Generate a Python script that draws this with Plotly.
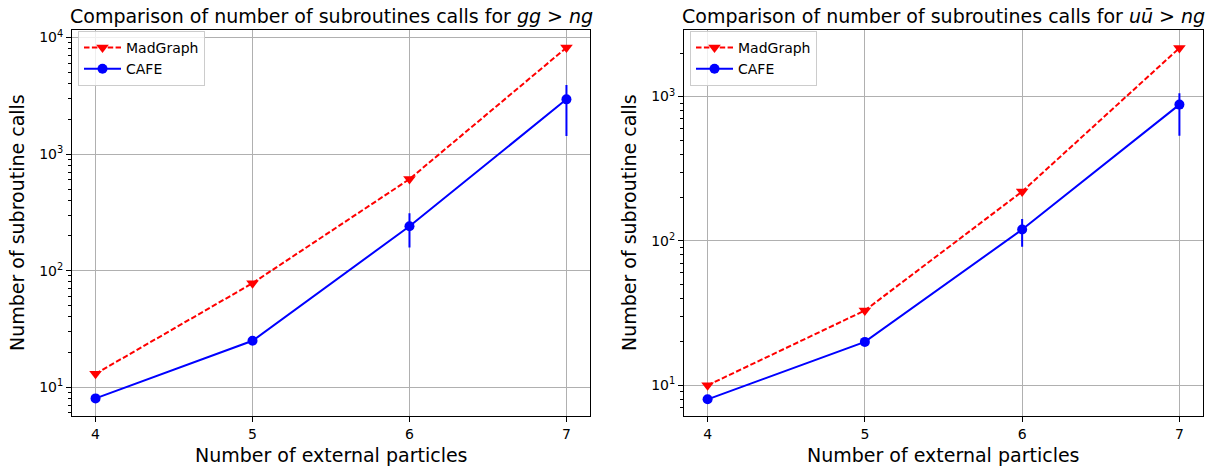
import plotly.graph_objects as go

# ---- data ----
n_particles = [4, 5, 6, 7]

gg_madgraph = [13, 78, 610, 8200]
gg_cafe = [8, 25, 240, 2950]
gg_cafe_err_plus = [0, 0, 70, 970]
gg_cafe_err_minus = [0, 0, 82, 1520]

uu_madgraph = [10, 33, 220, 2170]
uu_cafe = [8, 20, 120, 880]
uu_cafe_err_plus = [0, 0, 22, 175]
uu_cafe_err_minus = [0, 0, 29, 345]

x_ticks = [4, 5, 6, 7]
y_decades = [10, 100, 1000, 10000]
y_tick_text = ["10<sup>1</sup>", "10<sup>2</sup>", "10<sup>3</sup>", "10<sup>4</sup>"]

titles = ["Comparison of number of subroutines calls for <i>gg</i> > <i>ng</i>",
          "Comparison of number of subroutines calls for <i>u\u016b</i> > <i>ng</i>"]
x_label = "Number of external particles"
y_label = "Number of subroutine calls"

# ---- layout geometry ----
W, H = 1216, 472
FONT = "DejaVu Sans"
boxes = [(72, 590), (684, 1203)]
top, bottom = 28, 416
yranges = [[0.75, 4.066], [0.786, 3.462]]

minor_vals = [m * d for d in [1, 10, 100, 1000] for m in range(2, 10)]

fig = go.Figure()

datasets = [
    (gg_madgraph, gg_cafe, gg_cafe_err_plus, gg_cafe_err_minus),
    (uu_madgraph, uu_cafe, uu_cafe_err_plus, uu_cafe_err_minus),
]

for i, (mg, cafe, ep, em) in enumerate(datasets):
    xa = "x" if i == 0 else "x2"
    ya = "y" if i == 0 else "y2"
    lg = "legend" if i == 0 else "legend2"
    fig.add_trace(go.Scatter(
        x=n_particles, y=mg, mode="lines+markers", name="MadGraph",
        line=dict(color="red", width=2, dash="5.5px,2.4px"),
        marker=dict(symbol="triangle-down", size=11, color="red"),
        xaxis=xa, yaxis=ya, legend=lg))
    fig.add_trace(go.Scatter(
        x=n_particles, y=cafe, mode="lines+markers", name="CAFE",
        line=dict(color="blue", width=2),
        marker=dict(symbol="circle", size=10, color="blue"),
        error_y=dict(type="data", symmetric=False, array=ep, arrayminus=em,
                     color="blue", thickness=2, width=0),
        xaxis=xa, yaxis=ya, legend=lg))

axis_common = dict(showline=True, mirror=True, linecolor="black", linewidth=1,
                   ticks="outside", ticklen=5, tickwidth=1, tickcolor="black",
                   showgrid=True, gridcolor="#b0b0b0", gridwidth=1, zeroline=False,
                   tickfont=dict(family=FONT, size=14, color="black"))

layout = dict(width=W, height=H, margin=dict(l=0, r=0, t=0, b=0),
              plot_bgcolor="white", paper_bgcolor="white",
              font=dict(family=FONT, color="black"), showlegend=True)

annotations = []
for i, (x0, x1) in enumerate(boxes):
    sfx = "" if i == 0 else "2"
    dom_x = [x0 / W, x1 / W]
    dom_y = [1 - bottom / H, 1 - top / H]
    layout["xaxis" + sfx] = dict(axis_common, domain=dom_x, range=[3.85, 7.15],
                                 tickvals=x_ticks, ticktext=[str(v) for v in x_ticks],
                                 anchor="y" + sfx)
    layout["yaxis" + sfx] = dict(axis_common, domain=dom_y, type="log",
                                 range=yranges[i], tickvals=y_decades, ticktext=y_tick_text,
                                 anchor="x" + sfx,
                                 minor=dict(ticks="outside", ticklen=3, tickwidth=1,
                                            tickcolor="black", tickvals=minor_vals,
                                            showgrid=False))
    cx = (x0 + x1) / 2 / W
    annotations.append(dict(text=titles[i], x=cx, y=1 - 14 / H, xref="paper", yref="paper",
                            showarrow=False, xanchor="center", yanchor="middle",
                            font=dict(family=FONT, size=19, color="black")))
    annotations.append(dict(text=x_label, x=cx, y=1 - 455 / H, xref="paper", yref="paper",
                            showarrow=False, xanchor="center", yanchor="middle",
                            font=dict(family=FONT, size=19, color="black")))
    annotations.append(dict(text=y_label, x=(x0 - 55) / W, y=1 - (top + bottom) / 2 / H,
                            xref="paper", yref="paper", textangle=-90,
                            showarrow=False, xanchor="center", yanchor="middle",
                            font=dict(family=FONT, size=19, color="black")))
    lk = "legend" if i == 0 else "legend2"
    layout[lk] = dict(x=(x0 + 6) / W, y=1 - (top + 1) / H, xanchor="left", yanchor="top",
                      bgcolor="rgba(255,255,255,0.8)", bordercolor="#cccccc", borderwidth=1,
                      font=dict(family=FONT, size=14, color="black"),
                      tracegroupgap=0, itemwidth=37)

layout["annotations"] = annotations
fig.update_layout(**layout)

fig.write_html("out.html")
